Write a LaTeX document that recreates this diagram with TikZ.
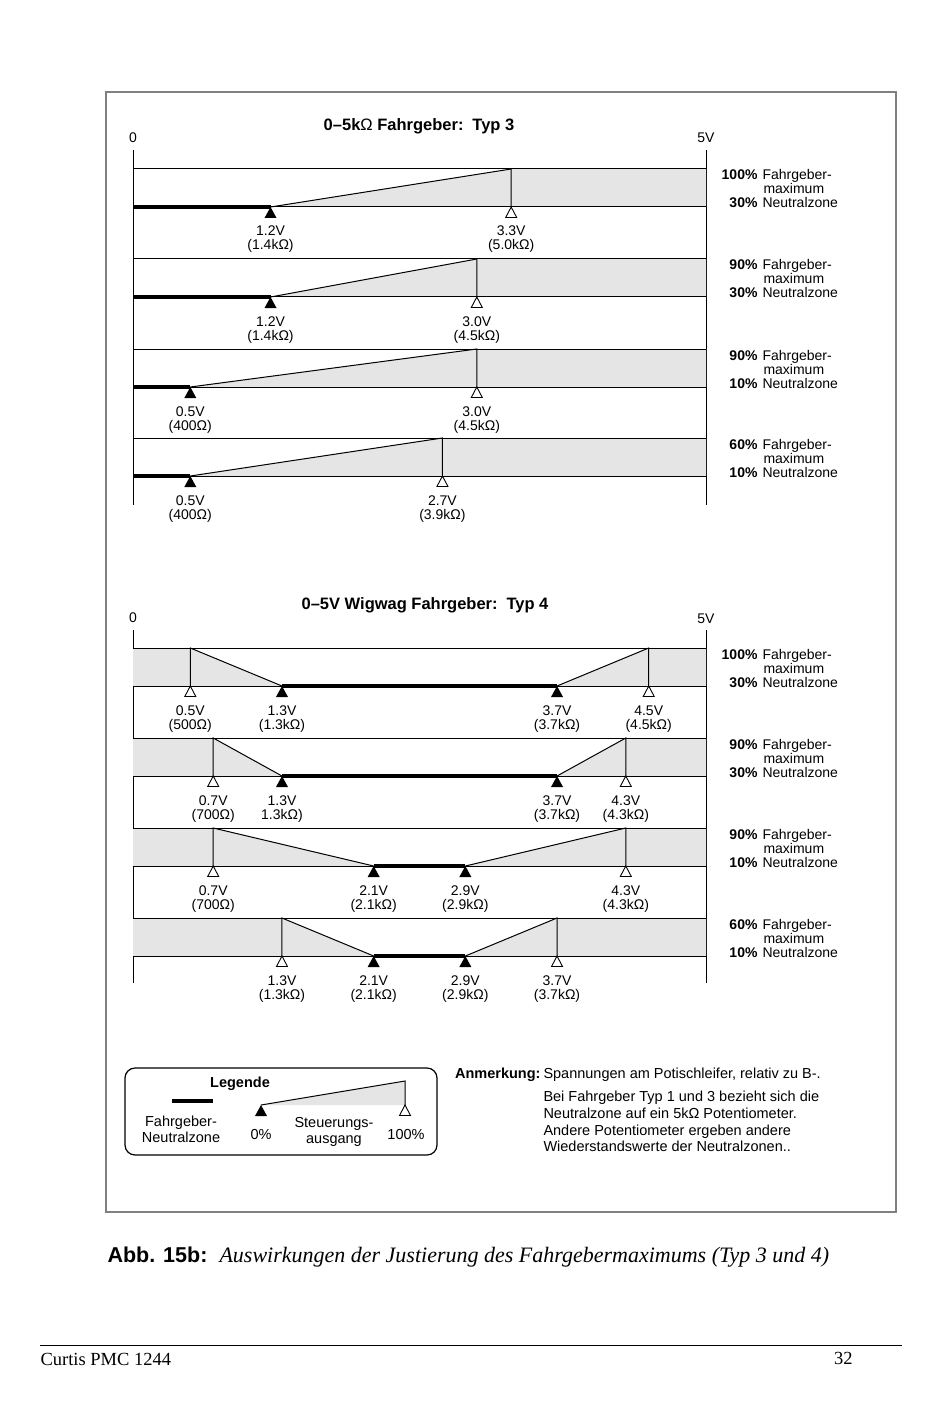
\documentclass[tikz,border=0pt]{standalone}
\usepackage{fontspec}
\setmainfont{Liberation Sans}
\newfontfamily\capserif{Liberation Serif}
\definecolor{bandgray}{gray}{0.9}
\definecolor{framegray}{gray}{0.5}
\newcommand\fmark[2]{\fill (#1,#2) -- ++(-6,11) -- ++(12,0) -- cycle;}
\newcommand\omark[2]{\draw[fill=white,line width=0.9pt,line join=miter] (#1,#2) -- ++(-5.5,10.5) -- ++(11,0) -- cycle;}
\begin{document}
\begin{tikzpicture}[x=1pt,y=-1pt,line width=1pt,
  vlab/.style={font=\fontsize{14}{14}\selectfont,inner sep=0pt,anchor=base},
  rlab/.style={font=\fontsize{14}{14}\selectfont,inner sep=0pt},
  ttl/.style={font=\fontsize{16.5}{17}\selectfont\bfseries,inner sep=0pt,anchor=base},
  neutral/.style={line width=3.5pt},
  txt/.style={font=\fontsize{14.5}{15}\selectfont,inner sep=0pt}]
\useasboundingbox (0,0) rectangle (950,1420);
\fill[white] (0,0) rectangle (950,1420);
% frame
\draw[framegray,line width=1.5pt] (106,92) rectangle (896,1212);

% ===== Typ 3 chart =====
\node[ttl] (t3) at (419,131) {0--5k{\mdseries Ω} Fahrgeber:\, Typ 3};
\node[vlab] (t3a) at (133,143) {0};
\node[vlab] (t3b) at (706,143) {5V};
\draw (133,150) -- (133,505) (706,150) -- (706,505);
\foreach \yt/\n/\m/\na/\nb/\ma/\mb/\pa/\pb in {
 169/1.2/3.3/1.2V/{(1.4kΩ)}/3.3V/{(5.0kΩ)}/100/30,
 259/1.2/3.0/1.2V/{(1.4kΩ)}/3.0V/{(4.5kΩ)}/90/30,
 349/0.5/3.0/0.5V/{(400Ω)}/3.0V/{(4.5kΩ)}/90/10,
 438/0.5/2.7/0.5V/{(400Ω)}/2.7V/{(3.9kΩ)}/60/10}{
 \pgfmathsetmacro\xn{133+114.6*\n}
 \pgfmathsetmacro\xm{133+114.6*\m}
 \pgfmathsetmacro\yb{\yt+38}
 \fill[bandgray] (\xn,\yb) -- (\xm,\yt) -- (706,\yt) -- (706,\yb) -- cycle;
 \draw (133,\yt) -- (706,\yt) (133,\yb) -- (706,\yb);
 \draw (\xn,\yb) -- (\xm,\yt) -- (\xm,\yb);
 \draw[neutral] (133,\yb) -- (\xn,\yb);
 \fmark{\xn}{\yb}
 \omark{\xm}{\yb}
 \node[vlab] (na\yt) at (\xn,\yb+29) {\na};
 \node[vlab] (nb\yt) at (\xn,\yb+43) {\nb};
 \node[vlab] (ma\yt) at (\xm,\yb+29) {\ma};
 \node[vlab] (mb\yt) at (\xm,\yb+43) {\mb};
 \node[rlab,anchor=base east] (pa\yt) at (758,\yt+11) {\textbf{\pa\%}};
 \node[rlab,anchor=base west] (fa\yt) at (762,\yt+11) {Fahrgeber-};
 \node[rlab,anchor=base west] (mx\yt) at (763,\yt+25) {maximum};
 \node[rlab,anchor=base east] (pb\yt) at (758,\yt+39) {\textbf{\pb\%}};
 \node[rlab,anchor=base west] (nz\yt) at (762,\yt+39) {Neutralzone};
}

% ===== Typ 4 chart =====
\node[ttl] (t4) at (425,609) {0--5V Wigwag Fahrgeber:\, Typ 4};
\node[vlab] (t4a) at (133,622) {0};
\node[vlab] (t4b) at (706,623) {5V};
\draw (133,630) -- (133,983) (706,630) -- (706,983);
\foreach \yt/\ma/\na/\nb/\mb/\la/\lb/\lc/\ld/\le/\lf/\lg/\lh/\pa/\pb in {
 648/0.5/1.3/3.7/4.5/0.5V/{(500Ω)}/1.3V/{(1.3kΩ)}/3.7V/{(3.7kΩ)}/4.5V/{(4.5kΩ)}/100/30,
 738/0.7/1.3/3.7/4.3/0.7V/{(700Ω)}/1.3V/{1.3kΩ)}/3.7V/{(3.7kΩ)}/4.3V/{(4.3kΩ)}/90/30,
 828/0.7/2.1/2.9/4.3/0.7V/{(700Ω)}/2.1V/{(2.1kΩ)}/2.9V/{(2.9kΩ)}/4.3V/{(4.3kΩ)}/90/10,
 918/1.3/2.1/2.9/3.7/1.3V/{(1.3kΩ)}/2.1V/{(2.1kΩ)}/2.9V/{(2.9kΩ)}/3.7V/{(3.7kΩ)}/60/10}{
 \pgfmathsetmacro\xa{133+114.6*\ma}
 \pgfmathsetmacro\xb{133+114.6*\na}
 \pgfmathsetmacro\xc{133+114.6*\nb}
 \pgfmathsetmacro\xd{133+114.6*\mb}
 \pgfmathsetmacro\yb{\yt+38}
 \fill[bandgray] (133,\yt) -- (\xa,\yt) -- (\xb,\yb) -- (133,\yb) -- cycle;
 \fill[bandgray] (\xc,\yb) -- (\xd,\yt) -- (706,\yt) -- (706,\yb) -- cycle;
 \draw (133,\yt) -- (706,\yt) (133,\yb) -- (706,\yb);
 \draw (\xa,\yb) -- (\xa,\yt) -- (\xb,\yb);
 \draw (\xc,\yb) -- (\xd,\yt) -- (\xd,\yb);
 \draw[neutral] (\xb,\yb) -- (\xc,\yb);
 \omark{\xa}{\yb}
 \fmark{\xb}{\yb}
 \fmark{\xc}{\yb}
 \omark{\xd}{\yb}
 \node[vlab] (la\yt) at (\xa,\yb+29) {\la};
 \node[vlab] (lb\yt) at (\xa,\yb+43) {\lb};
 \node[vlab] (lc\yt) at (\xb,\yb+29) {\lc};
 \node[vlab] (ld\yt) at (\xb,\yb+43) {\ld};
 \node[vlab] (le\yt) at (\xc,\yb+29) {\le};
 \node[vlab] (lf\yt) at (\xc,\yb+43) {\lf};
 \node[vlab] (lg\yt) at (\xd,\yb+29) {\lg};
 \node[vlab] (lh\yt) at (\xd,\yb+43) {\lh};
 \node[rlab,anchor=base east] (qa\yt) at (758,\yt+11) {\textbf{\pa\%}};
 \node[rlab,anchor=base west] (ga\yt) at (762,\yt+11) {Fahrgeber-};
 \node[rlab,anchor=base west] (gx\yt) at (763,\yt+25) {maximum};
 \node[rlab,anchor=base east] (qb\yt) at (758,\yt+39) {\textbf{\pb\%}};
 \node[rlab,anchor=base west] (gz\yt) at (762,\yt+39) {Neutralzone};
}

% ===== Legend =====
\draw[line width=1.2pt,rounded corners=10pt] (125,1068) rectangle (437,1155);
\node[txt,anchor=base,font=\fontsize{14.5}{15}\selectfont\bfseries] (leg) at (240,1087) {Legende};
\draw[neutral] (172,1101) -- (213,1101);
\node[txt,anchor=base] (lg1) at (181,1126) {Fahrgeber-};
\node[txt,anchor=base] (lg2) at (181,1142) {Neutralzone};
\fill[bandgray] (261,1105) -- (405,1081) -- (405,1105) -- cycle;
\draw (261,1105) -- (405,1081) -- (405,1105);
\fmark{261}{1105}
\omark{405}{1105}
\node[txt,anchor=base] (lg3) at (261,1139) {0\%};
\node[txt,anchor=base] (lg4) at (334,1127) {Steuerungs-};
\node[txt,anchor=base] (lg5) at (334,1143) {ausgang};
\node[txt,anchor=base] (lg6) at (406,1139) {100\%};

% ===== Anmerkung =====
\node[txt,anchor=base east,font=\fontsize{14.5}{15}\selectfont\bfseries] (an) at (541,1078) {Anmerkung:};
\node[txt,anchor=base west] (an1) at (543,1078) {Spannungen am Potischleifer, relativ zu B-.};
\node[txt,anchor=base west] (an2) at (543,1101) {Bei Fahrgeber Typ 1 und 3 bezieht sich die};
\node[txt,anchor=base west] (an3) at (543,1118) {Neutralzone auf ein 5kΩ Potentiometer.};
\node[txt,anchor=base west] (an4) at (543,1135) {Andere Potentiometer ergeben andere};
\node[txt,anchor=base west] (an5) at (543,1151) {Wiederstandswerte der Neutralzonen..};

% ===== Caption =====
\node[inner sep=0pt,anchor=base west,font=\fontsize{21.5}{22}\selectfont\bfseries] (cap1) at (107,1262) {Abb. 15b:};
\node[inner sep=0pt,anchor=base west,font=\capserif\itshape\fontsize{22}{23}\selectfont] (cap2) at (219,1262) {Auswirkungen der Justierung des Fahrgebermaximums (Typ 3 und 4)};

% ===== Footer =====
\draw[line width=0.8pt] (40,1345) -- (902,1345);
\node[inner sep=0pt,anchor=base west,font=\capserif\fontsize{18.5}{19}\selectfont] (ft1) at (40,1365) {Curtis PMC 1244};
\node[inner sep=0pt,anchor=base east,font=\capserif\fontsize{18.5}{19}\selectfont] (ft2) at (853,1364) {32};
\end{tikzpicture}
\end{document}
